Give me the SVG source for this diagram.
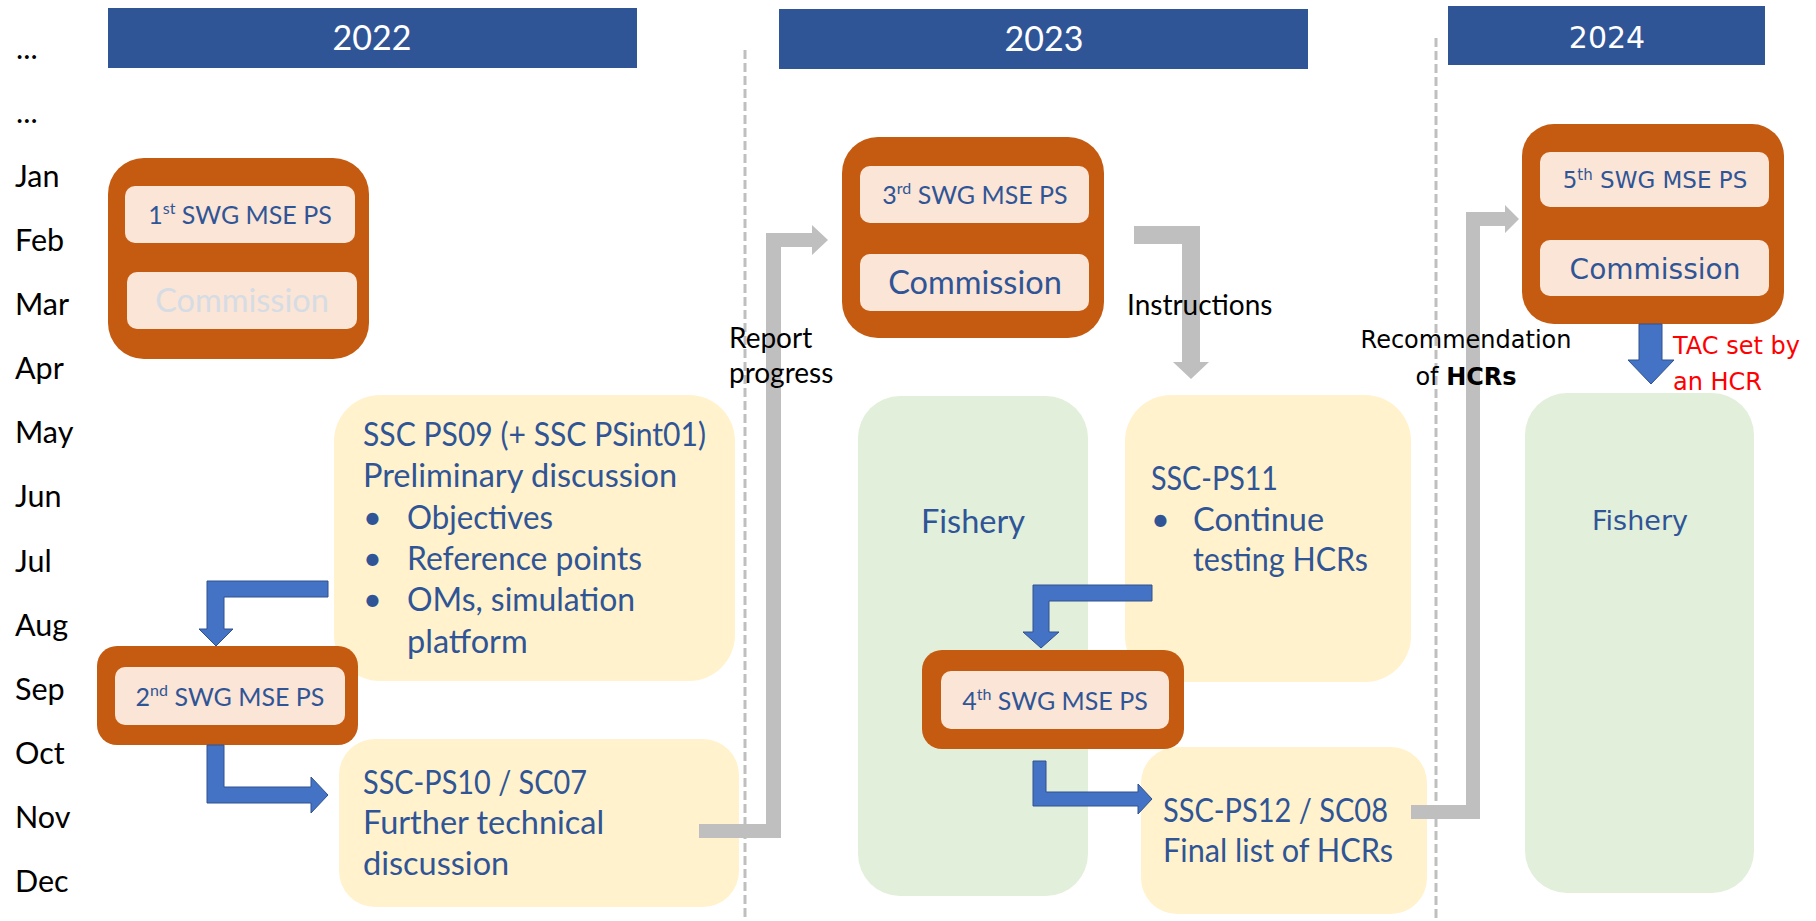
<svg xmlns="http://www.w3.org/2000/svg" width="1816" height="921" viewBox="0 0 1816 921">
<style>
.m{font-family:Lato,"Liberation Sans",sans-serif;font-size:30.5px;fill:#000}
.yb{fill:#2F5597}
.yt{font-family:Lato,"Liberation Sans",sans-serif;font-size:34px;fill:#fff;text-anchor:middle}
.og{fill:#C55A11}
.in{fill:#FBE5D6}
.lb{font-family:Lato,"Liberation Sans",sans-serif;font-size:25px;fill:#2F5597;text-anchor:middle}
.cm{font-family:Lato,"Liberation Sans",sans-serif;font-size:32.5px;fill:#2F5597;text-anchor:middle}
.t{font-family:Lato,"Liberation Sans",sans-serif;font-size:32.5px;fill:#2F5597}
.yel{fill:#FFF2CC}
.grn{fill:#E2EFDA}
.blk{font-family:Lato,"Liberation Sans",sans-serif;font-size:28px;fill:#000}
.d{font-family:"DejaVu Sans",Verdana,sans-serif}
.ga{fill:#BFBFBF}
.ba{fill:#4472C4;stroke:#2F528F;stroke-width:1}
.dash{stroke:#BFBFBF;stroke-width:3;stroke-dasharray:9 4;fill:none}
</style>

<g id="months">
<text class="m" x="16" y="59">...</text>
<text class="m" x="16" y="123">...</text>
<text class="m" x="15" y="187">Jan</text>
<text class="m" x="15" y="251">Feb</text>
<text class="m" x="15" y="315">Mar</text>
<text class="m" x="15" y="379">Apr</text>
<text class="m" x="15" y="443">May</text>
<text class="m" x="15" y="507">Jun</text>
<text class="m" x="15" y="572">Jul</text>
<text class="m" x="15" y="636">Aug</text>
<text class="m" x="15" y="700">Sep</text>
<text class="m" x="15" y="764">Oct</text>
<text class="m" x="15" y="828">Nov</text>
<text class="m" x="15" y="892">Dec</text>
</g>

<g id="year-2022"><rect class="yb" x="108" y="8" width="529" height="60"/><text class="yt" x="372" y="50">2022</text></g>
<g id="year-2023"><rect class="yb" x="779" y="9" width="529" height="60"/><text class="yt" x="1044" y="51">2023</text></g>
<g id="year-2024"><rect class="yb" x="1448" y="6" width="317" height="59"/><text class="d" x="1607" y="48" font-size="30" fill="#fff" text-anchor="middle">2024</text></g>

<g id="ssc-ps09">
<rect class="yel" x="334" y="395" width="401" height="286" rx="46"/>
<text class="t" x="363" y="446" textLength="343" lengthAdjust="spacingAndGlyphs">SSC PS09 (+ SSC PSint01)</text>
<text class="t" x="363" y="487">Preliminary discussion</text>
<text class="t" x="363" y="529">•</text><text class="t" x="407" y="529" textLength="146" lengthAdjust="spacingAndGlyphs">Objectives</text>
<text class="t" x="363" y="570">•</text><text class="t" x="407" y="570" textLength="235" lengthAdjust="spacingAndGlyphs">Reference points</text>
<text class="t" x="363" y="611">•</text><text class="t" x="407" y="611" textLength="228" lengthAdjust="spacingAndGlyphs">OMs, simulation</text>
<text class="t" x="407" y="653">platform</text>
</g>

<g id="ssc-ps10">
<rect class="yel" x="339" y="739" width="400" height="168" rx="36"/>
<text class="t" x="363" y="794" textLength="224" lengthAdjust="spacingAndGlyphs">SSC-PS10 / SC07</text>
<text class="t" x="363" y="834">Further technical</text>
<text class="t" x="363" y="875">discussion</text>
</g>

<g id="fishery-2023">
<rect class="grn" x="858" y="396" width="230" height="500" rx="42"/>
<text class="cm" x="973" y="533">Fishery</text>
</g>

<g id="ssc-ps11">
<rect class="yel" x="1125" y="395" width="286" height="287" rx="46"/>
<text class="t" x="1151" y="490" textLength="127" lengthAdjust="spacingAndGlyphs">SSC-PS11</text>
<text class="t" x="1151" y="531">•</text><text class="t" x="1193" y="531">Continue</text>
<text class="t" x="1193" y="571" textLength="175" lengthAdjust="spacingAndGlyphs">testing HCRs</text>
</g>

<g id="fishery-2024">
<rect class="grn" x="1525" y="393" width="229" height="500" rx="42"/>
<text class="d" x="1640" y="530" font-size="27" fill="#2F5597" text-anchor="middle">Fishery</text>
</g>

<g id="swg-1">
<rect class="og" x="108" y="158" width="261" height="201" rx="36"/>
<rect class="in" x="125" y="186" width="230" height="57" rx="10"/>
<text class="lb" x="240" y="224">1<tspan font-size="16" dy="-10">st</tspan><tspan dy="10"> SWG MSE PS</tspan></text>
<rect class="in" x="127" y="272" width="230" height="57" rx="10"/>
<text class="cm" x="242" y="312" style="fill:#D6DCE4">Commission</text>
</g>

<g id="swg-2">
<rect class="og" x="97" y="646" width="261" height="99" rx="20"/>
<rect class="in" x="115" y="667" width="230" height="58" rx="10"/>
<text class="lb" x="230" y="706">2<tspan font-size="16" dy="-10">nd</tspan><tspan dy="10"> SWG MSE PS</tspan></text>
</g>

<g id="swg-3">
<rect class="og" x="842" y="137" width="262" height="201" rx="36"/>
<rect class="in" x="860" y="166" width="229" height="57" rx="10"/>
<text class="lb" x="975" y="204">3<tspan font-size="16" dy="-10">rd</tspan><tspan dy="10"> SWG MSE PS</tspan></text>
<rect class="in" x="860" y="254" width="229" height="57" rx="10"/>
<text class="cm" x="975" y="294">Commission</text>
</g>

<g id="ssc-ps12">
<rect class="yel" x="1141" y="747" width="286" height="167" rx="36"/>
<text class="t" x="1163" y="822" textLength="225" lengthAdjust="spacingAndGlyphs">SSC-PS12 / SC08</text>
<text class="t" x="1163" y="862" textLength="230" lengthAdjust="spacingAndGlyphs">Final list of HCRs</text>
</g>

<g id="swg-4">
<rect class="og" x="922" y="650" width="262" height="99" rx="20"/>
<rect class="in" x="941" y="671" width="228" height="58" rx="10"/>
<text class="lb" x="1055" y="710">4<tspan font-size="16" dy="-10">th</tspan><tspan dy="10"> SWG MSE PS</tspan></text>
</g>

<g id="swg-5">
<rect class="og" x="1522" y="124" width="262" height="200" rx="32"/>
<rect class="in" x="1540" y="152" width="229" height="55" rx="10"/>
<text class="d" x="1655" y="188" font-size="23" fill="#2F5597" text-anchor="middle">5<tspan font-size="15" dy="-8">th</tspan><tspan dy="8"> SWG MSE PS</tspan></text>
<rect class="in" x="1540" y="240" width="229" height="56" rx="10"/>
<text class="d" x="1655" y="279" font-size="28" fill="#2F5597" text-anchor="middle">Commission</text>
</g>

<g id="connectors">
<polygon class="ga" points="699,824 766,824 766,233 812,233 812,225 828,240 812,255 812,247 781,247 781,838 699,838"/>
<polygon class="ga" points="1134,226 1200,226 1200,362 1209,362 1191,379 1173,362 1182,362 1182,244 1134,244"/>
<polygon class="ga" points="1411,805 1466,805 1466,212 1505,212 1505,205 1519,219 1505,233 1505,226 1480,226 1480,819 1411,819"/>
<polygon class="ba" points="328,581 207,581 207,629 199,629 216,646 233,629 224,629 224,597 328,597"/>
<polygon class="ba" points="207,745 224,745 224,787 311,787 311,777 328,795 311,813 311,803 207,803"/>
<polygon class="ba" points="1152,585 1033,585 1033,632 1023,632 1041,648 1059,632 1049,632 1049,601 1152,601"/>
<polygon class="ba" points="1033,761 1046,761 1046,792 1138,792 1138,784 1152,799 1138,814 1138,806 1033,806"/>
<polygon class="ba" points="1639,324 1662,324 1662,360 1674,360 1651,384 1628,360 1639,360"/>
</g>

<g id="dividers">
<line class="dash" x1="745" y1="50" x2="745" y2="921"/>
<line class="dash" x1="1436" y1="38" x2="1436" y2="921"/>
</g>

<g id="labels">
<text class="blk" x="729" y="348">Report</text>
<text class="blk" x="729" y="383">progress</text>
<text class="blk" x="1127" y="315">Instructions</text>
<text class="d" x="1466" y="348" font-size="24" fill="#000" text-anchor="middle">Recommendation</text>
<text class="d" x="1466" y="385" font-size="24" fill="#000" text-anchor="middle">of <tspan font-weight="bold">HCRs</tspan></text>
<text class="d" x="1673" y="354" font-size="24" fill="#FF0000">TAC set by</text>
<text class="d" x="1673" y="390" font-size="24" fill="#FF0000">an HCR</text>
</g>
</svg>
